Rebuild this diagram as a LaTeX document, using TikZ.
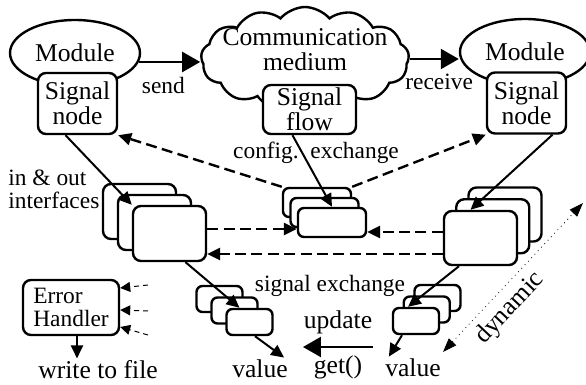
\documentclass[tikz,border=0pt]{standalone}
\usepackage{fontspec}
\setmainfont{Liberation Serif}
\usepackage{tikz,pgffor}
\usetikzlibrary{arrows.meta}
\usetikzlibrary{shapes.geometric}
\usetikzlibrary{shapes.symbols}
\usetikzlibrary{calc}
\newcommand{\bigfont}{\fontsize{12.8}{12.6}\selectfont}
\newcommand{\smallfont}{\fontsize{11.7}{11.4}\selectfont}
\tikzstyle{module}=[ellipse, draw=black, very thick, minimum width=65pt, minimum height=33pt, inner sep=0pt, font=\bigfont]
\tikzstyle{sigbox}=[rectangle, rounded corners=4pt, draw=black, very thick, fill=white, inner sep=0pt, align=center, font=\bigfont]
\tikzstyle{card}=[rectangle, rounded corners=4pt, draw=black, very thick, fill=white]
\tikzstyle{minicard}=[card, rounded corners=3pt, minimum width=23pt, minimum height=13pt]
\tikzstyle{tran}=[draw, -{Triangle[length=6.5pt, width=6pt]}, line width=1pt]
\tikzstyle{bigtran}=[draw, -{Triangle[length=9pt, width=10pt]}, line width=1.15pt]
\tikzstyle{xchg}=[tran, very thick, dash pattern=on 5.5pt off 2.7pt]
\tikzstyle{errtran}=[draw, -{Triangle[length=5pt, width=5pt]}, line width=0.5pt, dash pattern=on 2.5pt off 2pt]
\tikzstyle{lbl}=[font=\smallfont, inner sep=1pt]
\tikzstyle{txt}=[font=\bigfont, inner sep=1pt]

\begin{document}
\begin{tikzpicture}[x=0.5pt, y=-0.5pt]
\useasboundingbox (0,0) rectangle (586,385);

% modules and medium
\node[module] (modL) at (75,53) {Module};
\node[module] (modR) at (525,52) {Module};
\node[cloud, cloud puffs=13, cloud puff arc=100, cloud ignores aspect, draw=black, very thick,
      minimum width=104pt, minimum height=52pt,
      label={[font=\bigfont, align=center, yshift=4.5pt]center:Communication\\medium}] (medium) at (305,59) {};

\node[sigbox, minimum width=39.5pt, minimum height=30.5pt] (sigL) at (77.5,103.5) {Signal\\node};
\node[sigbox, minimum width=39.5pt, minimum height=30.5pt] (sigR) at (526.5,103) {Signal\\node};
\node[sigbox, minimum width=46.5pt, minimum height=24.5pt] (flow) at (309.5,109.5) {Signal\\flow};

% interface and buffer stacks
\foreach \i in {0,1,2}
{
  \node[card, minimum width=36.5pt, minimum height=27.5pt] (ifL\i) at ({139.5+15*\i},{211.5+11*\i}) {};
  \node[card, minimum width=36.5pt, minimum height=27pt] (ifR\i) at ({505-12.25*\i},{214.5+11.75*\i}) {};
  \node[card, rounded corners=3pt, minimum width=34pt, minimum height=14.5pt] (mid\i) at ({317+7.5*\i},{202.5+10*\i}) {};
  \node[minicard] (bufL\i) at ({219.5+15*\i},{299+11.5*\i}) {};
  \node[minicard] (bufR\i) at ({437.5-10.75*\i},{298+11.5*\i}) {};
}

\node[sigbox, align=left, font=\smallfont, minimum width=48pt, minimum height=27.5pt] (err) at (71,307.5) {Error\\Handler};

\node[lbl, anchor=west, align=left] (ioif) at (6,189.5) {in \& out\\interfaces};
\node[lbl] (cfg) at (316,153) {config.\enspace exchange};
\node[lbl] (sigx) at (330,286) {signal exchange};
\node[txt] (valL) at (260,369) {value};
\node[txt] (valR) at (413,368) {value};
\node[txt] (wtf) at (98,370) {write to file};

\coordinate (xa) at ([yshift=2.25pt]ifL2.east);
\coordinate (xb) at ([yshift=3pt]ifR2.west);
\coordinate (xc) at ([yshift=-10.25pt]ifL2.east);
\coordinate (ef) at ([xshift=3pt]err.south);
\coordinate (upA) at (373,347);
\coordinate (upB) at (303,347);
\coordinate (dynA) at (443,352);
\coordinate (dynB) at (583,203);
\coordinate (e1) at (148,285);
\coordinate (e2) at (148,311);
\coordinate (e3) at (148,335);

\draw[bigtran] (modL.-8) -- (modL.-8 -| medium.west) node[pos=0.4, below=6pt, lbl] {send};
\draw[bigtran] (medium.east) -- (medium.east -| modR.west) node[pos=0.6, below=6pt, lbl] {receive};

\draw[xchg] (mid0.north west) -- (sigL.south east);
\draw[xchg] (mid0.north east) -- (sigR.south west);
\draw[tran] ([xshift=-8.5pt]flow.south) -- (mid2.north);
\draw[tran] ([xshift=-6pt]sigL.south) -- (ifL2.north west);
\draw[tran] ([xshift=13pt]sigR.south) -- ([xshift=-5pt]ifR2.north);

\draw[xchg] (xa) -- (xa -| mid2.west);
\draw[xchg] (xb) -- (xb -| mid2.east);
\draw[xchg] (xc -| ifR2.west) -- (xc);

\draw[tran] ([xshift=8pt]ifL2.south) -- ([xshift=-5pt]bufL2.north);
\draw[tran] ([xshift=2.75pt]bufL2.south) -- ([xshift=-3pt]valL.north east);
\draw[tran] ([xshift=-10.75pt]ifR2.south) -- ([xshift=-4pt]bufR2.north);
\draw[tran] ([xshift=-7pt]bufR2.south) -- ([xshift=3pt]valR.north west);

\draw[bigtran] (upA) -- (upB) node[midway, above=5pt, txt] {update} node[midway, below=3pt, txt] {get()};
\draw[dotted, thin, {Triangle[length=7pt, width=5pt]}-{Triangle[length=7pt, width=5pt]}] (dynA) -- (dynB)
  node[pos=0.38, sloped, below=2.5pt, txt] {dynamic};

\draw[errtran] (e1) -- ([yshift=9.75pt]err.east);
\draw[errtran] (e2) -- ([yshift=-1.25pt]err.east);
\draw[errtran] (e3) -- ([yshift=-9.75pt]err.east);
\draw[tran] (ef) -- (ef |- wtf.north);

\end{tikzpicture}
\end{document}
